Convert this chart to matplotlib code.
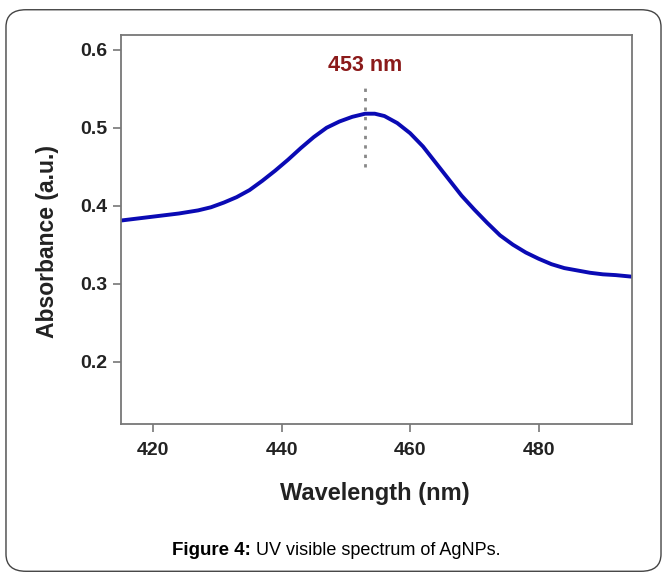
import matplotlib.pyplot as plt
from matplotlib.patches import FancyBboxPatch

# data
wavelength = [415, 418, 421, 424, 427, 429, 431, 433, 435, 437, 439, 441, 443, 445,
              447, 449, 451, 453, 454.5, 456, 458, 460, 462, 464, 466, 468, 470,
              472, 474, 476, 478, 480, 482, 484, 486, 488, 490, 492, 494.5]
absorbance = [0.381, 0.384, 0.387, 0.390, 0.394, 0.398, 0.404, 0.411, 0.420, 0.432,
              0.445, 0.459, 0.474, 0.488, 0.500, 0.508, 0.514, 0.518, 0.518, 0.515,
              0.506, 0.493, 0.476, 0.455, 0.434, 0.413, 0.395, 0.378, 0.362, 0.350,
              0.340, 0.332, 0.325, 0.320, 0.317, 0.314, 0.312, 0.311, 0.309]
peak_nm = 453
peak_label = "453 nm"
x_ticks = [420, 440, 460, 480]
y_ticks = [0.2, 0.3, 0.4, 0.5, 0.6]

plt.rcParams['font.family'] = ['Liberation Sans', 'DejaVu Sans']

fig = plt.figure(figsize=(6.65, 5.73), dpi=100)
ax = fig.add_axes([0.182, 0.260, 0.768, 0.679])

# rounded frame around the whole figure
frame = FancyBboxPatch((0.009, 0.003), 0.985, 0.98, boxstyle="round,pad=0,rounding_size=0.03",
                       transform=fig.transFigure, fill=False, edgecolor='#444444', lw=1.0)
fig.patches.append(frame)

ax.plot(wavelength, absorbance, color='#0a0ab4', lw=2.8, solid_joinstyle='round')
ax.vlines(peak_nm, 0.45, 0.552, colors='#888888', linestyles=(0, (1.2, 2.2)), lw=2)
ax.text(peak_nm, 0.566, peak_label, color='#8b1a1a', fontsize=15.5, fontweight='bold',
        ha='center', va='bottom')

ax.set_xlim(415, 494.5)
ax.set_ylim(0.12, 0.619)
ax.set_xticks(x_ticks)
ax.set_yticks(y_ticks)
ax.set_yticklabels([f"{v:.1f}" for v in y_ticks])

for s in ax.spines.values():
    s.set_color('#777777')
    s.set_linewidth(1.3)
ax.tick_params(direction='out', length=6, width=1.2, color='#777777',
               labelsize=14, labelcolor='#222222', pad=4)
ax.tick_params(axis='x', pad=7)
for lab in ax.get_xticklabels() + ax.get_yticklabels():
    lab.set_fontweight('bold')

ax.set_xlabel("Wavelength (nm)", fontsize=17, fontweight='bold', color='#222222')
ax.set_ylabel("Absorbance (a.u.)", fontsize=16.5, fontweight='bold', color='#222222')
ax.xaxis.set_label_coords(0.497, -0.149)
ax.yaxis.set_label_coords(-0.122, 0.47)

# caption: bold "Figure 4:" then regular text
fig.text(0.377, 0.04, "Figure 4:", ha='right', va='center', fontsize=13.5, fontweight='bold')
fig.text(0.377, 0.04, " UV visible spectrum of AgNPs.", ha='left', va='center', fontsize=13)

fig.savefig("out.png", dpi=100)
